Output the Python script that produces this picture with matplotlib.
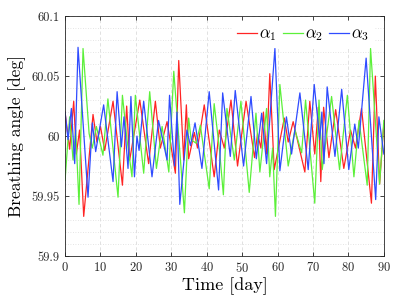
import matplotlib
matplotlib.use("Agg")
import matplotlib.pyplot as plt
from matplotlib.ticker import MultipleLocator, FixedLocator

plt.rcParams['mathtext.fontset'] = 'cm'
plt.rcParams['font.family'] = ['cmr10', 'DejaVu Serif']
plt.rcParams['axes.formatter.use_mathtext'] = True

# peaks and troughs, (day, angle)
a1_day = [0, 1.3, 2.45, 3.2, 4.1, 5.27, 7.9, 9.0, 10.0, 11.2, 13.55, 16.2, 17.4,
          18.25, 21.1, 23.6, 25.5, 26.9, 28.8, 31.15, 32.1, 33.5, 34.25, 34.9,
          36.5, 37.4, 39.3, 42.1, 43.55, 44.96, 46.85, 48.7, 51.1, 53.5, 54.35,
          55.3, 56.0, 56.9, 57.8, 59.05, 61.9, 63.0, 64.4, 67.7, 69.1, 70.5,
          71.5, 72.2, 73.0, 74.5, 76.4, 78.7, 80.6, 82.0, 83.7, 86.5, 87.6,
          88.8, 90]
a1_val = [60.020, 59.989, 60.029, 59.985, 60.005, 59.933, 60.018, 59.995, 60.008,
          59.988, 60.029, 59.959, 60.025, 59.980, 60.030, 59.977, 60.029, 59.990,
          60.012, 59.969, 60.063, 59.980, 60.026, 59.981, 60.003, 59.990, 60.026,
          59.966, 60.005, 59.990, 60.030, 59.975, 60.029, 59.982, 60.002, 59.990,
          60.020, 59.985, 60.052, 59.972, 60.015, 59.995, 60.012, 59.970, 60.029,
          59.985, 60.024, 59.962, 60.024, 59.982, 60.022, 59.973, 60.005, 59.990,
          60.023, 59.944, 60.050, 59.960, 60.010]

a2_day = [0, 1.3, 2.26, 3.0, 3.95, 5.08, 6.8, 7.7, 8.85, 10.7, 12.1, 14.96, 16.2,
          17.5, 18.9, 19.85, 22.2, 23.9, 25.8, 27.4, 29.3, 30.7, 33.7, 34.9, 35.6,
          37.0, 38.2, 40.7, 42.1, 43.55, 44.7, 45.7, 47.8, 49.65, 52.0, 53.9,
          55.0, 56.9, 57.8, 58.6, 59.4, 60.65, 63.0, 64.9, 66.8, 67.9, 70.5,
          71.7, 72.6, 75.25, 77.5, 79.7, 81.55, 83.0, 85.3, 86.25, 88.8, 90]
a2_val = [59.963, 60.016, 59.980, 60.005, 59.943, 60.073, 60.002, 59.990, 60.008,
          59.984, 60.031, 59.949, 60.034, 59.997, 59.966, 60.034, 59.969, 60.037,
          59.973, 60.008, 59.970, 60.054, 59.936, 60.015, 59.997, 59.994, 60.009,
          59.956, 60.027, 59.990, 59.951, 60.023, 59.980, 60.029, 59.953, 60.019,
          59.970, 60.023, 59.966, 59.990, 59.933, 60.043, 59.975, 60.005, 59.986,
          60.030, 59.944, 60.030, 59.972, 60.033, 59.972, 60.034, 59.966, 60.013,
          59.959, 60.073, 59.960, 60.013]

a3_day = [0, 0.85, 1.79, 2.73, 3.67, 6.49, 7.71, 8.65, 10.9, 13.55, 14.7, 15.9,
          16.65, 17.78, 18.6, 19.6, 20.3, 20.9, 22.2, 24.55, 26.4, 28.8, 29.5,
          30.9, 31.6, 32.4, 34.4, 35.4, 36.7, 38.65, 40.7, 43.35, 44.5, 46.65,
          48.05, 50.4, 52.5, 54.0, 55.5, 56.9, 59.25, 60.65, 62.5, 63.95, 66.3,
          68.65, 70.35, 71.9, 72.5, 73.1, 74.0, 76.2, 78.1, 80.1, 81.8, 82.8,
          85.0, 87.7, 88.6, 90]
a3_val = [60.020, 59.997, 60.023, 59.977, 60.074, 59.949, 60.011, 59.987, 60.026,
          59.962, 60.037, 59.991, 60.016, 59.973, 60.033, 59.966, 60.000, 59.988,
          60.029, 59.966, 60.013, 59.980, 60.034, 59.975, 60.020, 59.943, 60.005,
          59.992, 60.011, 59.973, 60.037, 59.955, 60.036, 59.983, 60.038, 59.975,
          60.033, 59.981, 60.019, 59.977, 60.073, 59.971, 60.016, 59.985, 60.036,
          59.972, 60.043, 59.997, 60.020, 59.977, 60.041, 59.983, 60.039, 59.972,
          60.010, 59.990, 60.065, 59.947, 60.016, 59.985]

labels = [r'$\alpha_1$', r'$\alpha_2$', r'$\alpha_3$']
colors = ['#ff2424', '#5cf03a', '#2f4cff']

fig = plt.figure(figsize=(3.99, 2.99), dpi=100)
ax = fig.add_axes([0.163, 0.144, 0.799, 0.802])

for d, v, lab, c in zip([a1_day, a2_day, a3_day], [a1_val, a2_val, a3_val], labels, colors):
    ax.plot(d, v, color=c, lw=0.9, label=lab)

ax.set_xlim(0, 90)
ax.set_ylim(59.9, 60.1)
ax.xaxis.set_major_locator(MultipleLocator(10))
ax.yaxis.set_major_locator(FixedLocator([59.9, 59.95, 60.0, 60.05, 60.1]))
ax.set_yticklabels(['59.9', '59.95', '60', '60.05', '60.1'])
ax.yaxis.set_minor_locator(MultipleLocator(0.01))

ax.grid(True, which='major', ls=(0, (4, 3)), color='#dcdcdc', lw=0.6)
ax.grid(True, which='minor', axis='y', ls=(0, (1, 2)), color='#dcdcdc', lw=0.6)
ax.set_axisbelow(True)

ax.tick_params(which='both', direction='in', top=True, right=True,
               labelsize=9, colors='#262626', pad=4)
ax.tick_params(which='major', length=3, width=0.6)
ax.tick_params(which='minor', length=0)
for s in ax.spines.values():
    s.set_color('#262626')
    s.set_linewidth(0.6)

ax.set_xlabel('Time [day]', fontsize=13, labelpad=1)
ax.set_ylabel('Breathing angle [deg]', fontsize=12.5, labelpad=4)

leg = ax.legend(loc='upper right', ncol=3, fontsize=12, frameon=True,
                handlelength=1.2, handletextpad=0.1, columnspacing=0.4,
                borderaxespad=0.3, borderpad=0.3, bbox_to_anchor=(0.985, 1.0))
leg.get_frame().set_edgecolor('none')
leg.get_frame().set_facecolor('white')
leg.get_frame().set_alpha(1)

fig.savefig('out.png', dpi=100)
